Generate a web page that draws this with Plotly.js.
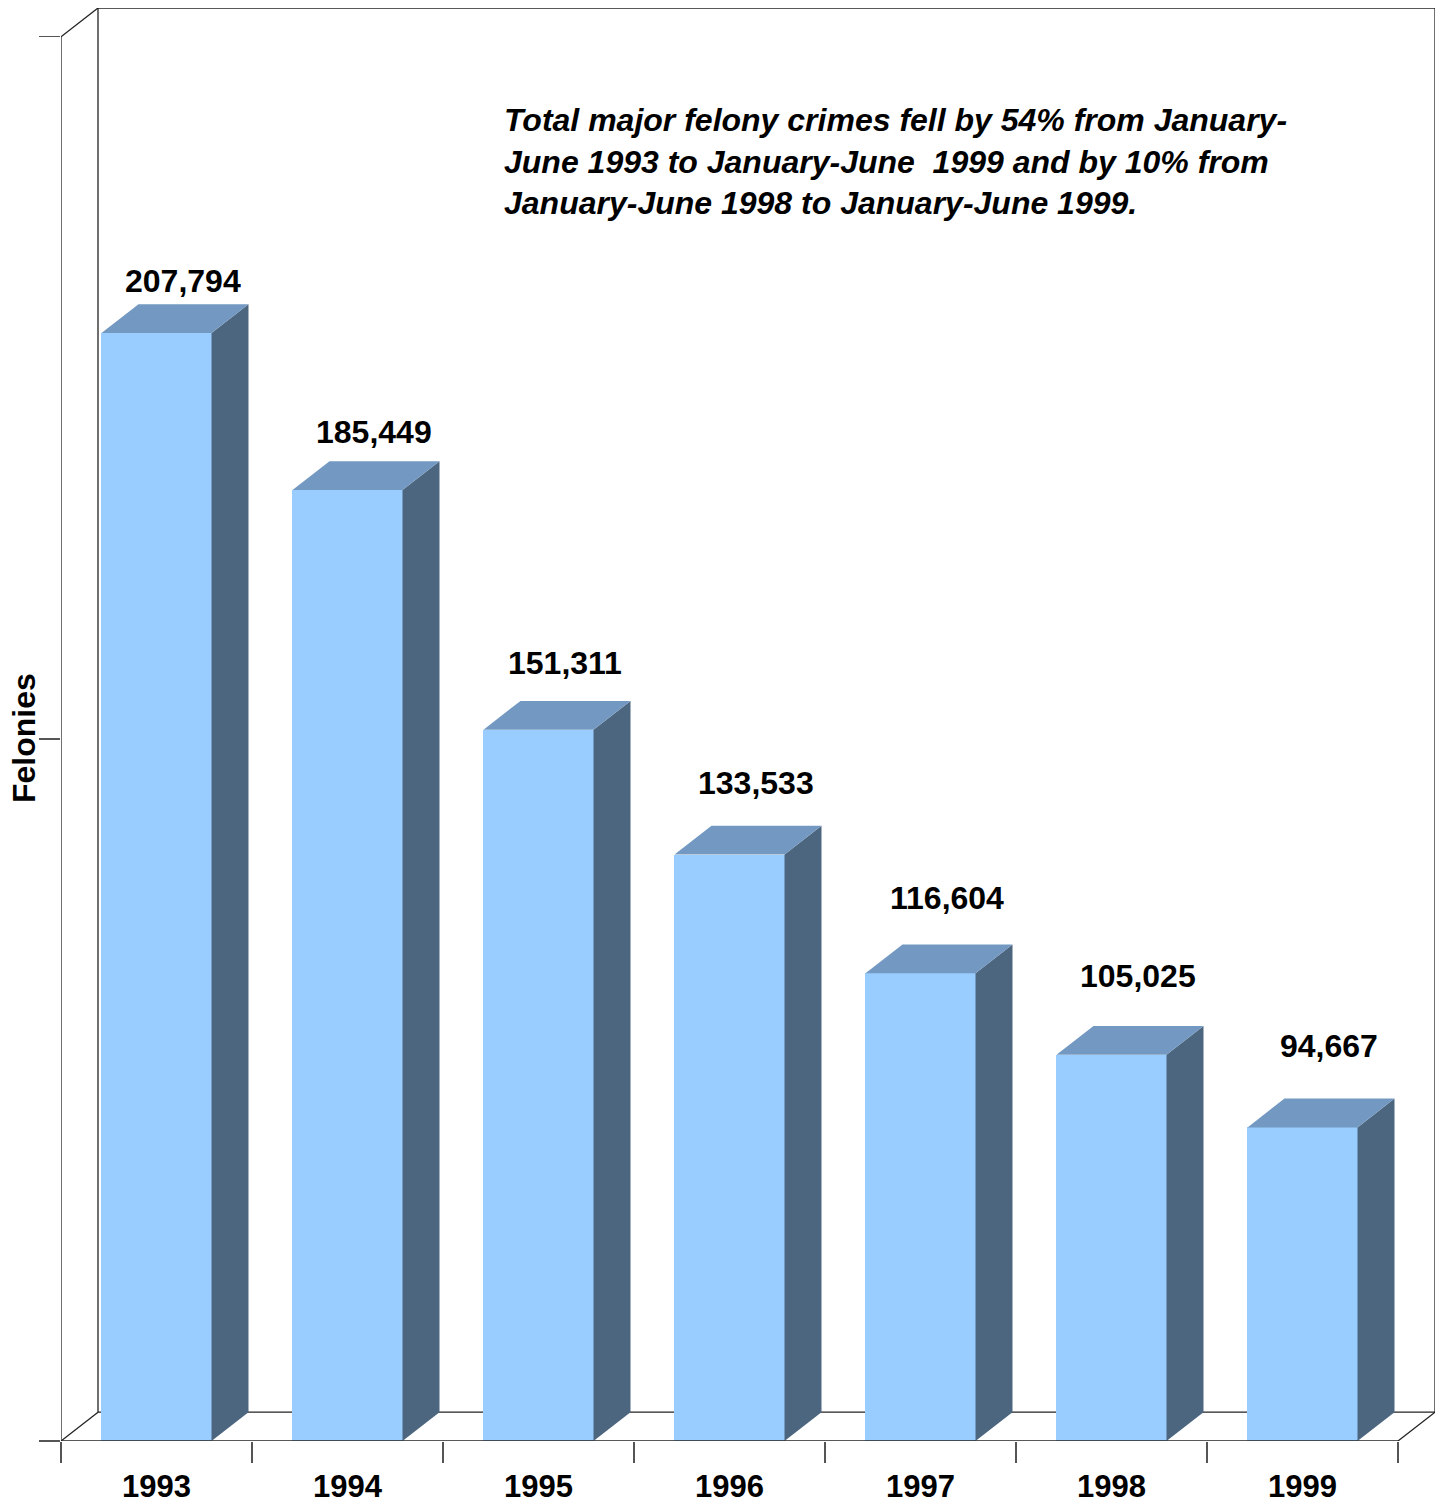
<!DOCTYPE html>
<html>
<head>
<meta charset="utf-8">
<script src="https://cdn.plot.ly/plotly-3.0.1.min.js"></script>
<style>html,body{margin:0;padding:0;background:#fff;}#chart{width:1444px;height:1504px;}</style>
</head>
<body>
<div id="chart"></div>
<script>
// ---- data ----
const years = ["1993", "1994", "1995", "1996", "1997", "1998", "1999"];
const felonies = [207794, 185449, 151311, 133533, 116604, 105025, 94667];
const yTickVals = [50000, 150000, 250000];
const noteText = "Total major felony crimes fell by 54% from January-<br>June 1993 to January-June  1999 and by 10% from<br>January-June 1998 to January-June 1999.";
const yTitle = "Felonies";

// ---- geometry of the pseudo-3D frame ----
const Y0 = 50000, YTOP = 250000;
const DX = 0.1937;          // depth offset in category units
const DY = 4100;            // depth offset in value units
const HALF = 0.288;         // half bar width
const LABEL_A = 14970, LABEL_K = 0.964;   // label placement (Excel-like perspective)
const n = years.length;
const idx = years.map((_, i) => i);

const cFront = "#99CCFF", cTop = "#7399C2", cSide = "#4D6680";
const font = "Liberation Sans, Arial, sans-serif";

const traces = [];
felonies.forEach((v, i) => {
  const x1 = i + HALF;
  traces.push({
    type: "scatter", mode: "lines", fill: "toself", fillcolor: cSide,
    line: {width: 0, color: cSide}, hoverinfo: "skip", showlegend: false,
    x: [x1, x1, x1 + DX, x1 + DX, x1],
    y: [Y0, v, v + DY, Y0 + DY, Y0]
  });
  traces.push({
    type: "scatter", mode: "lines", fill: "toself", fillcolor: cTop,
    line: {width: 0, color: cTop}, hoverinfo: "skip", showlegend: false,
    x: [i - HALF, i + HALF, i + HALF + DX, i - HALF + DX, i - HALF],
    y: [v, v, v + DY, v + DY, v]
  });
});
traces.unshift({
  type: "bar", x: idx, y: felonies, width: 2 * HALF,
  marker: {color: cFront, line: {width: 0}}, showlegend: false, hoverinfo: "x+y"
});
traces.push({type: "scatter", x: [0], y: [Y0], xaxis: "x2", mode: "markers",
  marker: {opacity: 0}, hoverinfo: "skip", showlegend: false});

const lineStyle = {color: "#222", width: 1.3};
const L = -0.5, R = n - 0.5;
function seg(x0, y0, x1, y1, extra) {
  return Object.assign({type: "line", xref: "x", yref: "y", x0, y0, x1, y1, line: lineStyle, layer: "below"}, extra || {});
}
const shapes = [
  seg(L + DX, YTOP + DY, R + DX, YTOP + DY),
  seg(L + DX, Y0 + DY, L + DX, YTOP + DY),
  seg(R + DX, Y0 + DY, R + DX, YTOP + DY),
  seg(L + DX, Y0 + DY, R + DX, Y0 + DY),
  seg(L, Y0, L + DX, Y0 + DY),
  seg(R, Y0, R + DX, Y0 + DY),
  seg(L, YTOP, L + DX, YTOP + DY),
  seg(L, Y0, L, YTOP, {layer: "above"}),
  seg(L, Y0, R, Y0, {layer: "above"})
];

const annotations = felonies.map((v, i) => ({
  x: i + DX / 2, y: LABEL_A + LABEL_K * v, xref: "x", yref: "y",
  text: "<b>" + v.toLocaleString("en-US") + "</b>",
  showarrow: false, xanchor: "center", yanchor: "middle",
  xshift: 8,
  font: {family: font, size: 32, color: "#000"}
}));
annotations.push({
  xref: "paper", yref: "paper", x: (502 - 61) / 1374, y: (1441 - 162) / 1433,
  xanchor: "left", yanchor: "middle", align: "left", showarrow: false,
  text: "<b><i>" + noteText + "</i></b>",
  font: {family: font, size: 32, color: "#000"}
});
annotations.push({
  xref: "paper", yref: "paper", x: (24 - 61) / 1374, y: (1441 - 738) / 1433,
  xanchor: "center", yanchor: "middle", textangle: -90, showarrow: false,
  text: "<b>" + yTitle + "</b>",
  font: {family: font, size: 32, color: "#000"}
});

const layout = {
  width: 1444, height: 1504,
  margin: {l: 61, r: 9, t: 8, b: 63},
  paper_bgcolor: "#fff", plot_bgcolor: "rgba(0,0,0,0)",
  showlegend: false, bargap: 0,
  xaxis: {
    range: [L, L + 1374 / 191], showgrid: false, zeroline: false, showline: false,
    tickmode: "array", tickvals: idx, ticktext: years, ticks: "",
    ticklabelstandoff: 24,
    tickfont: {family: font, size: 31, color: "#000", weight: "bold"},
    fixedrange: true
  },
  xaxis2: {
    overlaying: "x", anchor: "y", side: "bottom", matches: "x",
    range: [L, L + 1374 / 191], showgrid: false, zeroline: false, showline: false,
    tickmode: "array", tickvals: idx.map(i => i - 0.5).concat([R]),
    ticks: "outside", ticklen: 21, tickcolor: "#555", tickwidth: 1.3,
    showticklabels: false
  },
  yaxis: {
    range: [Y0, YTOP + DY], showgrid: false, zeroline: false, showline: false,
    tickmode: "array", tickvals: yTickVals, ticks: "outside", ticklen: 21,
    tickcolor: "#555", tickwidth: 1.3, showticklabels: false, fixedrange: true
  },
  shapes: shapes,
  annotations: annotations
};

Plotly.newPlot("chart", traces, layout, {displayModeBar: false, staticPlot: true});
</script>
</body>
</html>
